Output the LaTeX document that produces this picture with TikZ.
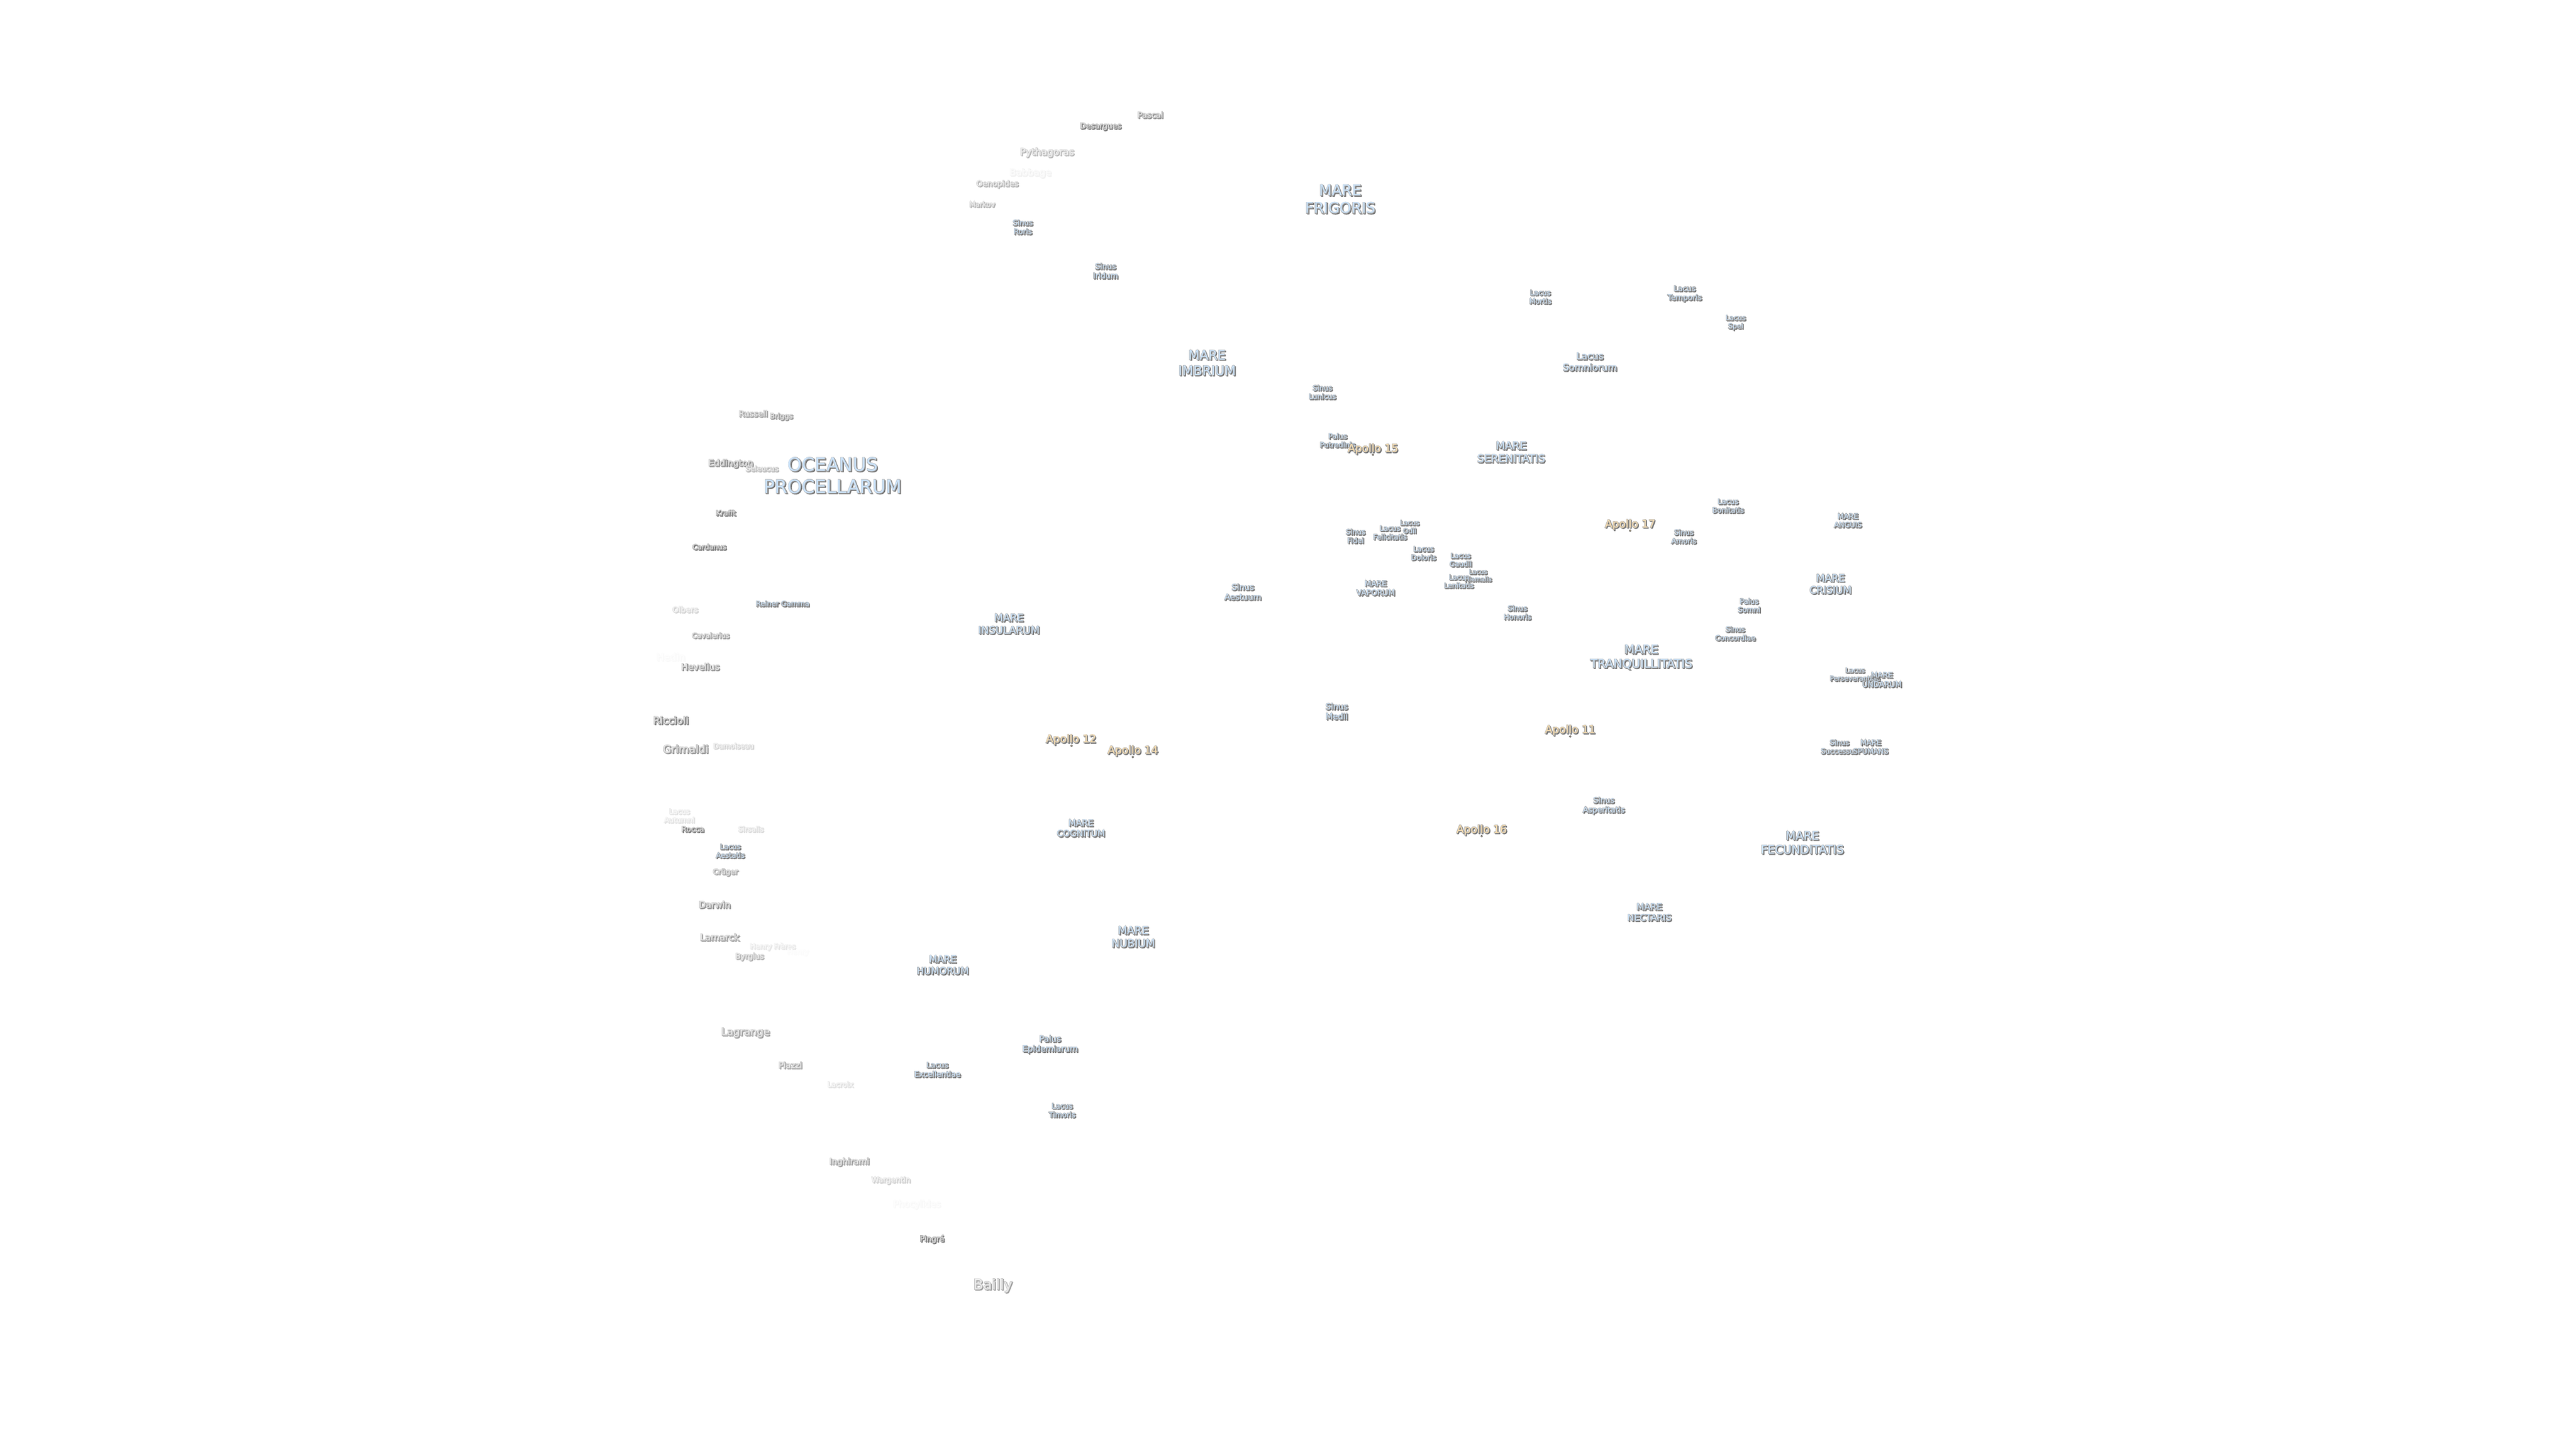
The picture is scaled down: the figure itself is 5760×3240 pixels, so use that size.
\documentclass[tikz,border=0pt]{standalone}
\usepackage{fontspec}
\setmainfont[Ligatures=NoCommon]{DejaVu Sans}
\definecolor{blueF}{HTML}{CBE3FA}
\definecolor{wheatF}{HTML}{FADFB0}
\definecolor{greyF}{HTML}{E4E4E4}
\tikzset{mlabel/.style={align=center,inner sep=0pt,outer sep=0pt,anchor=center},
  apdot/.style={circle,inner sep=0pt,minimum size=4pt,fill=wheatF,draw=black!70,line width=1pt}}
\newcommand\LL{\rule[-.235em]{0pt}{1.2em}}
\newcommand\stk[3]{\leavevmode\special{pdf:code #1 Tr #2 w #3 G}}
\newcommand\one[1]{\LL #1}
\newcommand\two[2]{\LL #1\\\LL #2}
% name, x, y, size, fill colour, alpha, text
\newcommand\lab[7]{%
  \pgfmathsetmacro\ls{1.2*#4}%
  \pgfmathsetmacro\gs{1-0.58*#6}%
  \pgfmathsetmacro\go{1-0.36*#6}%
  \pgfmathsetmacro\pct{100*#6}%
  \pgfmathsetmacro\xs{#2+2}%
  \pgfmathsetmacro\ys{#3+2}%
  \definecolor{tmpS}{gray}{\gs}%
  \definecolor{tmpO}{gray}{\go}%
  \colorlet{tmpF}{#5!\pct!white}%
  \def\ft{\fontsize{#4}{\ls}\selectfont}%
  \node[mlabel,font=\ft,text=tmpS] (#1-s) at (\xs,\ys) {\stk{2}{1.4}{\gs}#7};
  \node[mlabel,font=\ft,text=tmpO] (#1-o) at (#2,#3) {\stk{1}{2}{\go}#7};
  \node[mlabel,font=\ft,text=tmpF] (#1) at (#2,#3) {#7};
}
\begin{document}
\begin{tikzpicture}[x=1pt,y=-1pt]
\useasboundingbox (0,0) rectangle (5760,3240);
\fill[white] (0,0) rectangle (5760,3240);
% craters, north limb
\lab{pascal}{2572}{257}{18.3}{greyF}{.8}{\one{Pascal}}
\lab{desargues}{2461}{281}{17.3}{greyF}{.95}{\one{Desargues}}
\lab{pythagoras}{2341}{339}{21.5}{greyF}{.5}{\one{Pythagoras}}
\lab{babbage}{2304}{385}{21}{greyF}{.1}{\one{Babbage}}
\lab{oenopides}{2230}{410}{17.6}{greyF}{.55}{\one{Oenopides}}
\lab{markov}{2196}{457}{15.8}{greyF}{.55}{\one{Markov}}
% craters, west limb
\lab{russell}{1684}{925}{18.4}{greyF}{.7}{\one{Russell}}
\lab{briggs}{1747}{930}{16.2}{greyF}{.75}{\one{Briggs}}
\lab{eddington}{1634}{1035}{19.7}{greyF}{.85}{\one{Eddington}}
\lab{seleucus}{1704}{1048}{16.3}{greyF}{.55}{\one{Seleucus}}
\lab{krafft}{1623}{1147}{16}{greyF}{1}{\one{Krafft}}
\lab{cardanus}{1586}{1223}{16}{greyF}{1}{\one{Cardanus}}
\lab{olbers}{1532}{1363}{17.6}{greyF}{.32}{\one{Olbers}}
\lab{cavalerius}{1589}{1421}{16}{greyF}{.7}{\one{Cavalerius}}
\lab{hedin}{1500}{1469}{22}{greyF}{.04}{\one{Hedin}}
\lab{hevelius}{1566}{1491}{20}{greyF}{.8}{\one{Hevelius}}
\lab{riccioli}{1500}{1611}{22.5}{greyF}{.95}{\one{Riccioli}}
\lab{grimaldi}{1533}{1675}{24}{greyF}{.8}{\one{Grimaldi}}
\lab{damoiseau}{1640}{1668}{16}{greyF}{.32}{\one{Damoiseau}}
\lab{rocca}{1549}{1854}{17}{greyF}{1}{\one{Rocca}}
\lab{sirsalis}{1679}{1854}{16}{greyF}{.27}{\one{Sirsalis}}
\lab{cruger}{1622}{1949}{16.4}{greyF}{.65}{\one{Crüger}}
\lab{darwin}{1598}{2023}{20}{greyF}{.8}{\one{Darwin}}
\lab{lamarck}{1609}{2096}{20.5}{greyF}{.75}{\one{Lamarck}}
\lab{henryf}{1728}{2116}{16}{greyF}{.18}{\one{Henry Frères}}
\lab{henry}{1784}{2128}{16}{greyF}{.03}{\one{Henry}}
\lab{byrgius}{1676}{2138}{17}{greyF}{.55}{\one{Byrgius}}
\lab{lagrange}{1667}{2307}{23}{greyF}{.7}{\one{Lagrange}}
\lab{piazzi}{1767}{2382}{18.8}{greyF}{.65}{\one{Piazzi}}
\lab{lacroix}{1879}{2425}{16}{greyF}{.24}{\one{Lacroix}}
\lab{inghirami}{1899}{2597}{18.7}{greyF}{.7}{\one{Inghirami}}
\lab{wargentin}{1992}{2638}{17}{greyF}{.35}{\one{Wargentin}}
\lab{phocylides}{2050}{2692}{20}{greyF}{.05}{\one{Phocylides}}
\lab{pingre}{2084}{2770}{17.3}{greyF}{1}{\one{Pingré}}
\lab{bailly}{2220}{2872}{32}{greyF}{.7}{\one{Bailly}}
\lab{autumni}{1519}{1824}{16}{greyF}{.22}{\two{Lacus}{Autumni}}
% maria and lacus
\lab{frigoris}{2997}{445}{33}{blueF}{1}{\two{MARE}{FRIGORIS}}
\lab{roris}{2287}{508}{16.5}{blueF}{1}{\two{Sinus}{Roris}}
\lab{iridum}{2472}{606}{17.3}{blueF}{1}{\two{Sinus}{Iridum}}
\lab{imbrium}{2699}{811}{29}{blueF}{1}{\two{MARE}{IMBRIUM}}
\lab{lunicus}{2957}{877}{16}{blueF}{1}{\two{Sinus}{Lunicus}}
\lab{mortis}{3444}{664}{16}{blueF}{1}{\two{Lacus}{Mortis}}
\lab{temporis}{3767}{655}{17}{blueF}{1}{\two{Lacus}{Temporis}}
\lab{spei}{3881}{720}{15.5}{blueF}{1}{\two{Lacus}{Spei}}
\lab{somniorum}{3555}{809}{21}{blueF}{1}{\two{Lacus}{Somniorum}}
\lab{oceanus}{1862}{1063}{41}{blueF}{1}{\two{OCEANUS}{PROCELLARUM}}
\lab{reiner}{1750}{1350}{16}{blueF}{1}{\one{Reiner Gamma}}
\lab{aestatis}{1633}{1903}{16}{blueF}{1}{\two{Lacus}{Aestatis}}
\lab{humorum}{2108}{2158}{21.5}{blueF}{1}{\two{MARE}{HUMORUM}}
\lab{excellentiae}{2096}{2392}{17}{blueF}{1}{\two{Lacus}{Excellentiae}}
\lab{epidemiarum}{2348}{2334}{18.6}{blueF}{1}{\two{Palus}{Epidemiarum}}
\lab{timoris}{2375}{2483}{16.3}{blueF}{1}{\two{Lacus}{Timoris}}
\lab{insularum}{2256}{1395}{23}{blueF}{1}{\two{MARE}{INSULARUM}}
\lab{aestuum}{2779}{1324}{18.5}{blueF}{1}{\two{Sinus}{Aestuum}}
\lab{medii}{2989}{1591}{18.5}{blueF}{1}{\two{Sinus}{Medii}}
\lab{cognitum}{2417}{1852}{19.5}{blueF}{1}{\two{MARE}{COGNITUM}}
\lab{nubium}{2534}{2095}{24}{blueF}{1}{\two{MARE}{NUBIUM}}
\lab{putredinis}{2991}{985}{16}{blueF}{1}{\two{Palus}{Putredinis}}
\lab{serenitatis}{3379}{1011}{24}{blueF}{1}{\two{MARE}{SERENITATIS}}
\lab{fidei}{3031}{1199}{16}{blueF}{1}{\two{Sinus}{Fidei}}
\lab{felicitatis}{3108}{1191}{16}{blueF}{1}{\two{Lacus}{Felicitatis}}
\lab{odii}{3152}{1178}{15}{blueF}{1}{\two{Lacus}{Odii}}
\lab{doloris}{3183}{1237}{16}{blueF}{1}{\two{Lacus}{Doloris}}
\lab{gaudii}{3266}{1252}{15.5}{blueF}{1}{\two{Lacus}{Gaudii}}
\lab{lenitatis}{3262}{1300}{15.5}{blueF}{1}{\two{Lacus}{Lenitatis}}
\lab{hiemalis}{3305}{1287}{14}{blueF}{1}{\two{Lacus}{Hiemalis}}
\lab{vaporum}{3076}{1315}{17.2}{blueF}{1}{\two{MARE}{VAPORUM}}
\lab{honoris}{3393}{1370}{16}{blueF}{1}{\two{Sinus}{Honoris}}
\lab{amoris}{3765}{1200}{16}{blueF}{1}{\two{Sinus}{Amoris}}
\lab{tranq}{3670}{1468}{26.5}{blueF}{1}{\two{MARE}{TRANQUILLITATIS}}
\lab{asperitatis}{3586}{1800}{17.5}{blueF}{1}{\two{Sinus}{Asperitatis}}
\lab{fecunditatis}{4030}{1884}{26}{blueF}{1}{\two{MARE}{FECUNDITATIS}}
\lab{nectaris}{3688}{2040}{20}{blueF}{1}{\two{MARE}{NECTARIS}}
\lab{bonitatis}{3864}{1131}{16}{blueF}{1}{\two{Lacus}{Bonitatis}}
\lab{anguis}{4132}{1164}{16}{blueF}{1}{\two{MARE}{ANGUIS}}
\lab{crisium}{4093}{1306}{22.3}{blueF}{1}{\two{MARE}{CRISIUM}}
\lab{somni}{3911}{1354}{16}{blueF}{1}{\two{Palus}{Somni}}
\lab{concordiae}{3880}{1417}{16}{blueF}{1}{\two{Sinus}{Concordiae}}
\lab{perseverantiae}{4148}{1508}{15}{blueF}{1}{\two{Lacus}{Perseverantiae}}
\lab{undarum}{4208}{1520}{17}{blueF}{1}{\two{MARE}{UNDARUM}}
\lab{successus}{4113}{1670}{16}{blueF}{1}{\two{Sinus}{Successus}}
\lab{spumans}{4183}{1670}{16}{blueF}{1}{\two{MARE}{SPUMANS}}
% Apollo landing sites
\node[apdot] (a15d) at (3070,1017) {};
\node[apdot] (a17d) at (3645,1187) {};
\node[apdot] (a11d) at (3511,1647) {};
\node[apdot] (a12d) at (2396,1668) {};
\node[apdot] (a14d) at (2533,1693) {};
\node[apdot] (a16d) at (3313,1870) {};
\lab{a15}{3070}{1002}{24}{wheatF}{1}{\one{Apollo 15}}
\lab{a17}{3645}{1171}{24}{wheatF}{1}{\one{Apollo 17}}
\lab{a11}{3511}{1631}{24}{wheatF}{1}{\one{Apollo 11}}
\lab{a12}{2395}{1652}{24}{wheatF}{1}{\one{Apollo 12}}
\lab{a14}{2533}{1677}{24}{wheatF}{1}{\one{Apollo 14}}
\lab{a16}{3313}{1854}{24}{wheatF}{1}{\one{Apollo 16}}
\end{tikzpicture}
\end{document}
